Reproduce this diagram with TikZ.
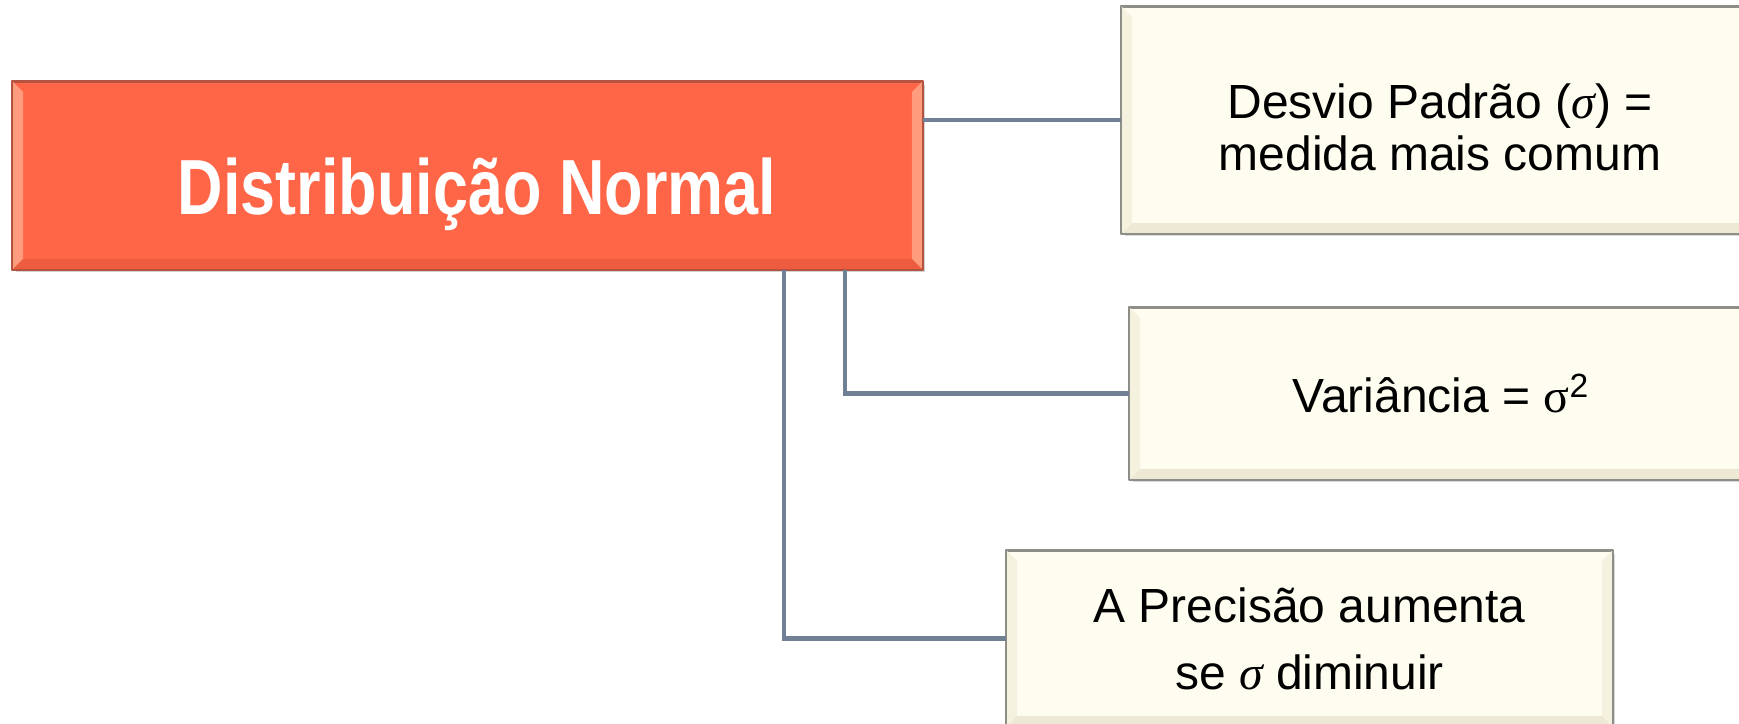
\documentclass[tikz,border=0pt]{standalone}
\usepackage{fontspec}
\setmainfont{Liberation Sans}
\newfontfamily\sigmafont{Liberation Serif}
\usetikzlibrary{calc,shadows}
\definecolor{mainfill}{HTML}{FF6647}
\definecolor{mainedge}{HTML}{B4533F}
\definecolor{mainside}{HTML}{FF9C7E}
\definecolor{mainbottom}{HTML}{EE5C3F}
\definecolor{notefill}{HTML}{FEFDF0}
\definecolor{noteedge}{HTML}{8E8E88}
\definecolor{noteside}{HTML}{F5F1DF}
\definecolor{notebottom}{HTML}{EEE9D4}
\definecolor{linkgray}{HTML}{718195}

\newcommand{\boxbevel}[5]{%
  \fill[#3] (#1.north west) -- ($(#1.north west)+(#2,-#2)$) -- ($(#1.south west)+(#2,#2)$) -- (#1.south west) -- cycle;
  \fill[#3] (#1.north east) -- ($(#1.north east)+(-#2,-#2)$) -- ($(#1.south east)+(-#2,#2)$) -- (#1.south east) -- cycle;
  \fill[#4] (#1.south west) -- ($(#1.south west)+(#2,#2)$) -- ($(#1.south east)+(-#2,#2)$) -- (#1.south east) -- cycle;
  \draw[#5,line width=1pt] (#1.north west) rectangle (#1.south east);
}

\begin{document}
\begin{tikzpicture}[line cap=round,line join=round,x=0.02cm,y=0.02cm,
  mainbox/.style={rectangle,draw=mainedge,line width=1pt,fill=mainfill,inner sep=0pt,
    drop shadow={shadow xshift=1.6pt,shadow yshift=-1.6pt,opacity=0.35}},
  titletext/.style={text=white,inner sep=0pt,anchor=base,font=\fontsize{44.5}{48}\selectfont\bfseries},
  notebox/.style={rectangle,draw=noteedge,line width=1pt,fill=notefill,text=black,inner sep=0pt,align=center,
    drop shadow={shadow xshift=1.6pt,shadow yshift=-1.6pt,opacity=0.3}},
  link/.style={draw=linkgray,line width=2.5pt,line cap=butt,line join=miter}]
	\useasboundingbox (0,0) rectangle (1739,724);
	\clip (0,0) rectangle (1739,724);
	\node[mainbox,minimum width=18.18cm,minimum height=3.74cm] (dist) at (467.5,548.5) {};
	\node[notebox,minimum width=12.72cm,minimum height=4.52cm,font=\fontsize{27.3}{30}\selectfont] (desvio) at (1440,604) {\rule{0pt}{28pt}Desvio Padrão ({\sigmafont\itshape σ}) =\\medida mais comum};
	\node[notebox,minimum width=12.44cm,minimum height=3.42cm,font=\fontsize{27.3}{30}\selectfont] (variancia) at (1441,330.5) {Variância = {\sigmafont σ}\textsuperscript{2}};
	\node[notebox,minimum width=12.1cm,minimum height=3.5cm,font=\fontsize{27.3}{38}\selectfont] (precisao) at (1309.5,85.5) {A Precisão aumenta\\se {\sigmafont\itshape σ} diminuir};
	\boxbevel{dist}{11}{mainside}{mainbottom}{mainedge}
	\boxbevel{desvio}{11}{noteside}{notebottom}{noteedge}
	\boxbevel{variancia}{11}{noteside}{notebottom}{noteedge}
	\boxbevel{precisao}{11}{noteside}{notebottom}{noteedge}
	\node[titletext] (disttitle) at (477,509.5) {\scalebox{0.805}[1]{Distribuição Normal}};
	\coordinate (j2) at (845,0);
	\coordinate (j3) at (784,0);
	\draw[link] (desvio.west) -- (desvio.west -| dist.east);
	\draw[link] (variancia.west) -| (j2 |- dist.south);
	\draw[link] (precisao.west) -| (j3 |- dist.south);
\end{tikzpicture}
\end{document}
